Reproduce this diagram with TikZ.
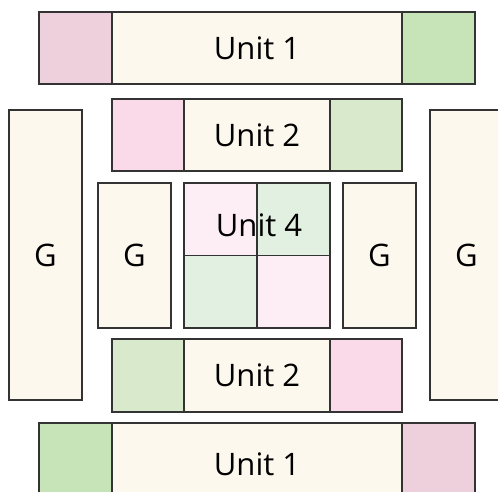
\documentclass[tikz,border=0pt]{standalone}
\usepackage{fontspec}
\setmainfont{Open Sans}
\definecolor{cream}{HTML}{FDF8EE}
\definecolor{pinkA}{HTML}{EDD0DC}
\definecolor{greenA}{HTML}{C7E3B8}
\definecolor{pinkB}{HTML}{FADAE8}
\definecolor{greenB}{HTML}{D9EACC}
\definecolor{pinkC}{HTML}{FDEDF4}
\definecolor{greenC}{HTML}{E2F0E2}
\definecolor{edge}{HTML}{333333}
\tikzset{
  cell/.style={draw=edge, line width=1.3pt, inner sep=0pt, outer sep=0pt,
    font=\fontsize{31}{31}\selectfont, text=black},
}
\begin{document}
\begin{tikzpicture}[x=1pt,y=-1pt]
\useasboundingbox (0,0) rectangle (498,491);
\clip (0,0) rectangle (498,491);
% top Unit 1
\node[cell, fill=pinkA, minimum width=73pt, minimum height=72pt] (u1tl) at (75.5,48) {};
\node[cell, fill=cream, minimum width=290pt, minimum height=72pt] (u1tm) at (257,48) {Unit 1};
\node[cell, fill=greenA, minimum width=73pt, minimum height=72pt] (u1tr) at (438.5,48) {};
% top Unit 2
\node[cell, fill=pinkB, minimum width=72pt, minimum height=72pt] (u2tl) at (148,135) {};
\node[cell, fill=cream, minimum width=146pt, minimum height=72pt] (u2tm) at (257,135) {Unit 2};
\node[cell, fill=greenB, minimum width=72pt, minimum height=72pt] (u2tr) at (366,135) {};
% big G
\node[cell, fill=cream, minimum width=73pt, minimum height=290pt] (gbl) at (45.5,255) {G};
\node[cell, fill=cream, minimum width=73pt, minimum height=290pt] (gbr) at (466.5,255) {G};
% inner G
\node[cell, fill=cream, minimum width=73pt, minimum height=145pt] (gil) at (134.5,255.5) {G};
\node[cell, fill=cream, minimum width=73pt, minimum height=145pt] (gir) at (379.5,255.5) {G};
% Unit 4
\node[cell, fill=pinkC, minimum width=73pt, minimum height=72.5pt] (u4a) at (220.5,219.25) {};
\node[cell, fill=greenC, minimum width=73pt, minimum height=72.5pt] (u4b) at (293.5,219.25) {};
\node[cell, fill=greenC, minimum width=73pt, minimum height=72.5pt] (u4c) at (220.5,291.75) {};
\node[cell, fill=pinkC, minimum width=73pt, minimum height=72.5pt] (u4d) at (293.5,291.75) {};
\node[font=\fontsize{31}{31}\selectfont, inner sep=0pt] (u4lab) at (259,225.5) {Unit 4};
% bottom Unit 2
\node[cell, fill=greenB, minimum width=72pt, minimum height=73pt] (u2bl) at (148,375.5) {};
\node[cell, fill=cream, minimum width=146pt, minimum height=73pt] (u2bm) at (257,375.5) {Unit 2};
\node[cell, fill=pinkB, minimum width=72pt, minimum height=73pt] (u2br) at (366,375.5) {};
% bottom Unit 1
\node[cell, fill=greenA, minimum width=73pt, minimum height=72pt] (u1bl) at (75.5,459) {};
\node[cell, fill=cream, minimum width=290pt, minimum height=72pt] (u1bm) at (257,459) {};
\node[cell, fill=pinkA, minimum width=73pt, minimum height=72pt] (u1br) at (438.5,459) {};
\node[font=\fontsize{31}{31}\selectfont, inner sep=0pt, anchor=base] (u1blab) at (257,475) {Unit 1};
\end{tikzpicture}
\end{document}
